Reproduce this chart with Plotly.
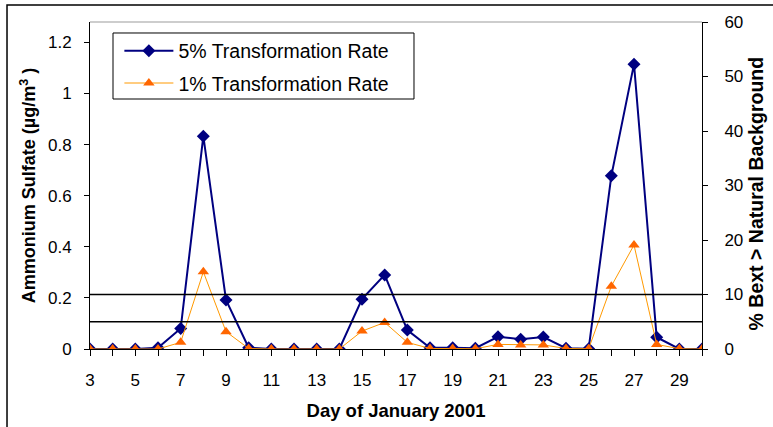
import plotly.graph_objects as go

# Day of January 2001
days = list(range(3, 31))

# Ammonium sulfate (ug/m3), 5% transformation rate
rate_5pct = [0.0, 0.0, 0.0, 0.005, 0.08, 0.833, 0.192, 0.005, 0.0, 0.0,
             0.0, 0.0, 0.195, 0.29, 0.074, 0.005, 0.005, 0.003, 0.048, 0.038,
             0.047, 0.003, 0.001, 0.678, 1.115, 0.046, 0.0, 0.0]

# Ammonium sulfate (ug/m3), 1% transformation rate
rate_1pct = [0.0, 0.0, 0.0, 0.0, 0.026, 0.302, 0.068, 0.002, 0.0, 0.0,
             0.0, 0.0, 0.07, 0.104, 0.026, 0.002, 0.002, 0.001, 0.018, 0.016,
             0.016, 0.002, 0.001, 0.246, 0.407, 0.018, 0.001, 0.0]

# % Bext > natural background thresholds (right axis)
thresholds = [10, 5]

x_labels = list(range(3, 30, 2))
left_ticks = [0, 0.2, 0.4, 0.6, 0.8, 1, 1.2]
right_ticks = [0, 10, 20, 30, 40, 50, 60]

FONT = "Arial, Liberation Sans, sans-serif"

fig = go.Figure()

fig.add_trace(go.Scatter(
    x=days, y=rate_5pct, name="5% Transformation Rate",
    mode="lines+markers", legendgroup="a",
    line=dict(color="#000080", width=2),
    marker=dict(symbol="diamond", size=10, color="#000080"),
))
fig.add_trace(go.Scatter(
    x=days, y=rate_1pct, name="1% Transformation Rate",
    mode="lines+markers", legendgroup="b",
    line=dict(color="#FF9900", width=1),
    marker=dict(symbol="triangle-up", size=10, color="#FF6600"),
))
# invisible trace to activate the right axis
fig.add_trace(go.Scatter(x=[days[0]], y=[0], yaxis="y2", mode="markers",
                         marker=dict(opacity=0), showlegend=False, hoverinfo="skip"))

for t in thresholds:
    fig.add_shape(type="line", xref="x", yref="y2", x0=days[0], x1=days[-1],
                  y0=t, y1=t, line=dict(color="black", width=1.5))

# light grey top border of plot area
fig.add_shape(type="line", xref="paper", yref="paper", x0=0, x1=1, y0=1, y1=1,
              line=dict(color="#BDBDBD", width=1.5))
# legend frame
fig.add_shape(type="rect", xref="paper", yref="paper", x0=0.0376, x1=0.5294,
              y0=0.7645, y1=0.9664, line=dict(color="black", width=1),
              fillcolor="white", layer="below")
# outer chart frame
fig.add_shape(type="rect", xref="paper", yref="paper", x0=-0.1356, x1=1.2,
              y0=-0.4, y1=1.052, line=dict(color="black", width=1.5))

fig.update_layout(
    width=773, height=427,
    margin=dict(l=90, r=71, t=22, b=78, autoexpand=False),
    paper_bgcolor="white", plot_bgcolor="white",
    font=dict(family=FONT, size=17, color="black"),
    showlegend=True,
    legend=dict(x=0.048, y=0.971, xanchor="left", yanchor="top",
                borderwidth=0, bgcolor="rgba(0,0,0,0)",
                font=dict(size=19.5), itemwidth=49, tracegroupgap=4),
    xaxis=dict(
        range=[days[0], days[-1]], tickvals=x_labels, ticks="outside",
        ticklen=6, tickcolor="black", showline=True, linecolor="black",
        linewidth=1, showgrid=False, zeroline=False, automargin=False,
        ticklabelstandoff=10,
        minor=dict(ticks="outside", dtick=1, tick0=3, ticklen=6, tickcolor="black"),
        title=dict(text="<b>Day of January 2001</b>", font=dict(size=18.5), standoff=14),
    ),
    yaxis=dict(
        range=[0, 1.28], tickvals=left_ticks, ticks="outside", ticklen=5,
        tickcolor="black", showline=True, linecolor="black", linewidth=1,
        showgrid=False, zeroline=False, automargin=False, ticklabelstandoff=9,
        title=dict(text="<b>Ammonium Sulfate (µg/m<sup>3</sup> )</b>",
                   font=dict(size=18), standoff=7),
    ),
    yaxis2=dict(
        overlaying="y", side="right", range=[0, 60], tickvals=right_ticks,
        ticks="outside", ticklen=5, tickcolor="black", showline=True,
        linecolor="black", linewidth=1, showgrid=False, zeroline=False,
        automargin=False, ticklabelstandoff=13,
        title=dict(text="<b>% Bext > Natural Background</b>&nbsp;&nbsp;&nbsp;",
                   font=dict(size=19.5), standoff=7),
    ),
)

# drop the default page margin so the figure sits at the window origin
fig.write_html("out.html", config={"displayModeBar": False},
               post_script="document.body.style.margin='0';")
